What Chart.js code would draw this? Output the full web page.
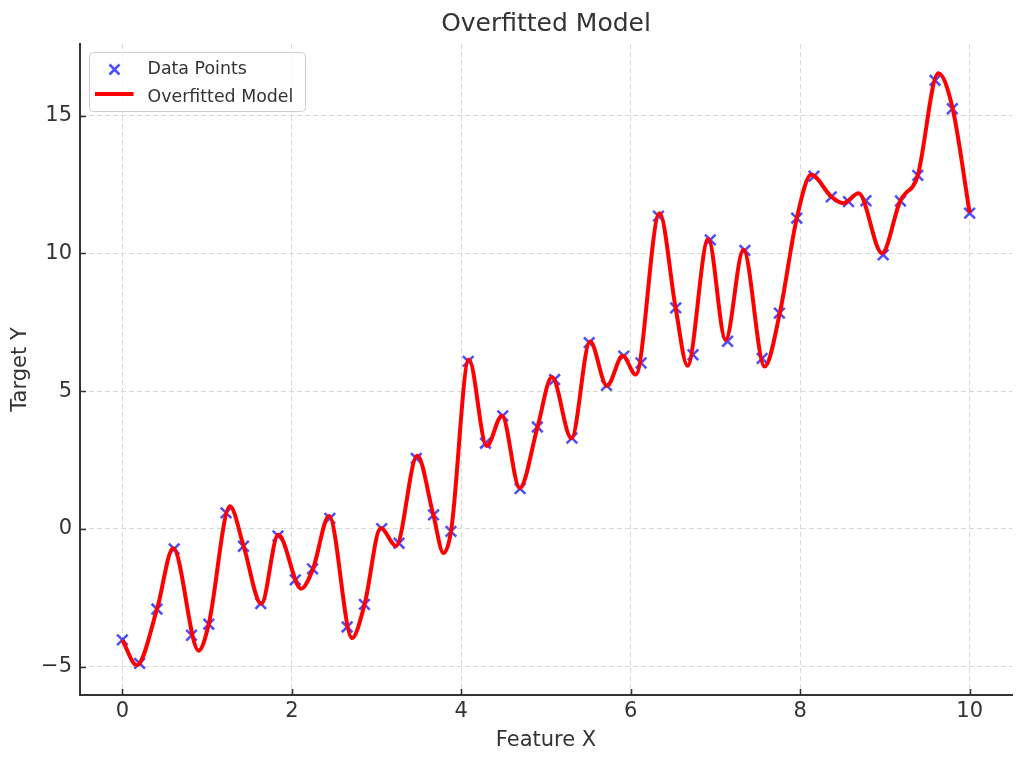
<!DOCTYPE html>
<html>
<head>
<meta charset="utf-8">
<script src="https://cdn.jsdelivr.net/npm/chart.js@4/dist/chart.umd.min.js"></script>
<style>
html, body { margin: 0; padding: 0; background: #ffffff; }
#wrap { width: 1024px; height: 765px; }
</style>
</head>
<body>
<div id="wrap"><canvas id="c" width="1024" height="765"></canvas></div>
<script>
// ---- data ----
const dataX = [0, 0.204, 0.408, 0.612, 0.816, 1.020, 1.224, 1.429, 1.633, 1.837,
  2.041, 2.245, 2.449, 2.653, 2.857, 3.061, 3.265, 3.469, 3.673, 3.878,
  4.082, 4.286, 4.490, 4.694, 4.898, 5.102, 5.306, 5.510, 5.714, 5.918,
  6.122, 6.327, 6.531, 6.735, 6.939, 7.143, 7.347, 7.551, 7.755, 7.959,
  8.163, 8.367, 8.571, 8.776, 8.980, 9.184, 9.388, 9.592, 9.796, 10.0];
const dataY = [-4.03, -4.88, -2.91, -0.73, -3.86, -3.46, 0.58, -0.63, -2.71, -0.26,
  -1.85, -1.45, 0.38, -3.56, -2.74, 0.01, -0.52, 2.56, 0.51, -0.09,
  6.08, 3.11, 4.10, 1.46, 3.70, 5.42, 3.30, 6.76, 5.21, 6.27,
  6.02, 11.35, 8.02, 6.32, 10.49, 6.81, 10.11, 6.19, 7.83, 11.28,
  12.80, 12.05, 11.88, 11.91, 9.95, 11.90, 12.83, 16.28, 15.25, 11.46];

const curveX = [0.00, 0.17, 0.41, 0.60, 0.90, 1.02, 1.27, 1.43, 1.64, 1.84,
  2.11, 2.25, 2.44, 2.71, 2.86, 3.05, 3.23, 3.48, 3.67, 3.79,
  3.88, 4.09, 4.30, 4.48, 4.69, 4.90, 5.07, 5.30, 5.52, 5.72,
  5.905, 6.06, 6.34, 6.53, 6.67, 6.915, 7.12, 7.33, 7.58, 7.76,
  7.96, 8.13, 8.37, 8.51, 8.69, 8.966, 9.18, 9.25, 9.33, 9.39,
  9.63, 9.80, 10.00];
const curveY = [-4.03, -4.95, -2.90, -0.70, -4.42, -3.45, 0.82, -0.62, -2.72, -0.21,
  -2.17, -1.45, 0.47, -3.96, -2.72, 0.03, -0.62, 2.65, 0.51, -0.88,
  -0.07, 6.15, 3.01, 4.11, 1.48, 3.70, 5.51, 3.29, 6.80, 5.19,
  6.28, 5.60, 11.46, 8.02, 5.92, 10.52, 6.86, 10.13, 5.89, 7.84,
  11.28, 12.85, 12.05, 11.82, 12.18, 10.01, 11.90, 12.20, 12.43, 12.85,
  16.54, 15.25, 11.47];

const xTicks = [0, 2, 4, 6, 8, 10];
const xTickLabels = ['0', '2', '4', '6', '8', '10'];
const yTicks = [-5, 0, 5, 10, 15];
const yTickLabels = ['\u22125', '0', '5', '10', '15'];

const seriesLabels = ['Data Points', 'Overfitted Model'];

// ---- styling ----
const FONT = 'DejaVu Sans';
const TEXT = '#333333';
const MARK = 'rgba(0,0,255,0.7)';
const LINE = '#ff0000';

const scatterPts = dataX.map((x, i) => ({ x: x, y: dataY[i] }));
const curvePts = curveX.map((x, i) => ({ x: x, y: curveY[i] }));

// inward tick marks (matplotlib-like)
const inwardTicks = {
  id: 'inwardTicks',
  afterDatasetsDraw(chart) {
    const { ctx, chartArea, scales } = chart;
    ctx.save();
    ctx.strokeStyle = TEXT;
    ctx.lineWidth = 1.6;
    ctx.beginPath();
    xTicks.forEach(v => {
      const px = Math.round(scales.x.getPixelForValue(v)) + 0.5;
      ctx.moveTo(px, chartArea.bottom);
      ctx.lineTo(px, chartArea.bottom - 6);
    });
    yTicks.forEach(v => {
      const py = Math.round(scales.y.getPixelForValue(v)) + 0.5;
      ctx.moveTo(chartArea.left, py);
      ctx.lineTo(chartArea.left + 6, py);
    });
    ctx.stroke();
    ctx.restore();
  }
};

// matplotlib-style legend box in the upper-left of the plot area
const boxLegend = {
  id: 'boxLegend',
  afterDraw(chart) {
    const { ctx, chartArea } = chart;
    const x0 = chartArea.left + 9.5, y0 = chartArea.top + 8.5;
    const w = 216, h = 59, r = 4;
    ctx.save();
    ctx.beginPath();
    ctx.moveTo(x0 + r, y0);
    ctx.lineTo(x0 + w - r, y0);
    ctx.arcTo(x0 + w, y0, x0 + w, y0 + r, r);
    ctx.lineTo(x0 + w, y0 + h - r);
    ctx.arcTo(x0 + w, y0 + h, x0 + w - r, y0 + h, r);
    ctx.lineTo(x0 + r, y0 + h);
    ctx.arcTo(x0, y0 + h, x0, y0 + h - r, r);
    ctx.lineTo(x0, y0 + r);
    ctx.arcTo(x0, y0, x0 + r, y0, r);
    ctx.closePath();
    ctx.fillStyle = 'rgba(255,255,255,0.8)';
    ctx.fill();
    ctx.strokeStyle = '#cccccc';
    ctx.lineWidth = 1;
    ctx.stroke();

    // marker for data points
    const mx = x0 + 25, my = y0 + 17;
    const d = 5;
    ctx.beginPath();
    ctx.moveTo(mx - d, my - d); ctx.lineTo(mx + d, my + d);
    ctx.moveTo(mx - d, my + d); ctx.lineTo(mx + d, my - d);
    ctx.strokeStyle = MARK;
    ctx.lineWidth = 2.5;
    ctx.stroke();

    // line for the model
    const ly = y0 + 41.5;
    ctx.beginPath();
    ctx.moveTo(x0 + 5.5, ly); ctx.lineTo(x0 + 44, ly);
    ctx.strokeStyle = LINE;
    ctx.lineWidth = 4;
    ctx.stroke();

    ctx.fillStyle = TEXT;
    ctx.font = '17.4px "' + FONT + '"';
    ctx.textBaseline = 'alphabetic';
    ctx.textAlign = 'left';
    ctx.fillText(seriesLabels[0], x0 + 58, y0 + 21.5);
    ctx.fillText(seriesLabels[1], x0 + 58, y0 + 49);
    ctx.restore();
  }
};

new Chart(document.getElementById('c'), {
  type: 'scatter',
  data: {
    datasets: [
      {
        type: 'line',
        label: seriesLabels[1],
        data: curvePts,
        showLine: true,
        borderColor: LINE,
        backgroundColor: LINE,
        borderWidth: 4,
        pointRadius: 0,
        pointHoverRadius: 0,
        fill: false,
        cubicInterpolationMode: 'monotone',
        order: 0
      },
      {
        type: 'scatter',
        label: seriesLabels[0],
        data: scatterPts,
        pointStyle: 'crossRot',
        pointRadius: 7.5,
        pointHoverRadius: 7.5,
        borderColor: MARK,
        backgroundColor: MARK,
        borderWidth: 2.5,
        order: 1
      }
    ]
  },
  options: {
    responsive: false,
    animation: false,
    events: [],
    layout: { padding: { left: 0, right: 12, top: 0, bottom: 0 } },
    plugins: {
      legend: { display: false },
      tooltip: { enabled: false },
      title: {
        display: true,
        text: 'Overfitted Model',
        fullSize: false,
        color: TEXT,
        font: { family: FONT, size: 25, weight: 'normal', lineHeight: 1.2 },
        padding: { top: 9, bottom: 5 }
      }
    },
    scales: {
      x: {
        type: 'linear',
        min: -0.5,
        max: 10.5,
        afterFit(s) { s.height = 70; },
        afterBuildTicks(s) { s.ticks = xTicks.map(v => ({ value: v })); },
        ticks: {
          callback: (v, i) => xTickLabels[i],
          color: TEXT,
          font: { family: FONT, size: 21 },
          padding: 4,
          maxRotation: 0,
          autoSkip: false
        },
        grid: { color: '#d9d9d9', lineWidth: 1, drawTicks: false },
        border: { color: TEXT, width: 2, dash: [5, 3] },
        title: {
          display: true,
          text: 'Feature X',
          color: TEXT,
          font: { family: FONT, size: 21, lineHeight: 1.2 },
          padding: { top: 0, bottom: 12 }
        }
      },
      y: {
        type: 'linear',
        min: -6.03,
        max: 17.6,
        afterFit(s) { s.width = 80; },
        afterBuildTicks(s) { s.ticks = yTicks.map(v => ({ value: v })); },
        ticks: {
          callback: (v, i) => yTickLabels[i],
          color: TEXT,
          font: { family: FONT, size: 21 },
          padding: 8,
          autoSkip: false
        },
        grid: { color: '#d9d9d9', lineWidth: 1, drawTicks: false },
        border: { color: TEXT, width: 2, dash: [5, 3] },
        title: {
          display: true,
          text: 'Target Y',
          color: TEXT,
          font: { family: FONT, size: 21, lineHeight: 1.2 },
          padding: { top: 8, bottom: 0 }
        }
      }
    }
  },
  plugins: [inwardTicks, boxLegend]
});
</script>
</body>
</html>
